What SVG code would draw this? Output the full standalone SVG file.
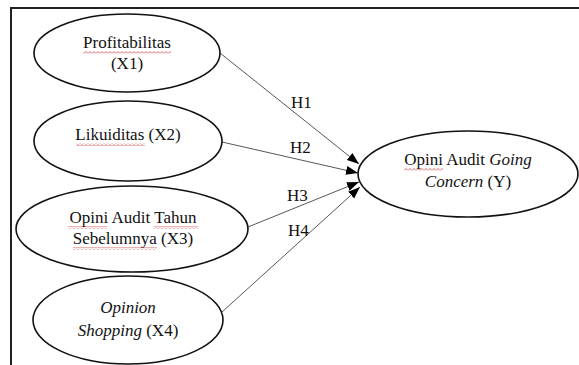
<svg xmlns="http://www.w3.org/2000/svg" width="579" height="365" viewBox="0 0 579 365">
<style>
  .node { fill: #ffffff; stroke: #111111; stroke-width: 1.6; }
  .t { font-family: 'Liberation Serif', 'Times New Roman', serif; font-size: 17px; fill: #111111; text-anchor: middle; }
  .lbl { font-family: 'Liberation Serif', 'Times New Roman', serif; font-size: 17px; fill: #111111; }
  .i { font-style: italic; }
  .edge { stroke: #444444; stroke-width: 0.9; fill: none; marker-end: url(#arr); }
  .frame { stroke: #222222; stroke-width: 2; fill: none; }
  .sq { fill: url(#wavy); }
</style>
<defs>
  <marker id="arr" markerUnits="userSpaceOnUse" markerWidth="13" markerHeight="10" refX="12" refY="4.5" orient="auto">
    <path d="M0,0 L12,4.5 L0,9 z" fill="#000000"/>
  </marker>
  <pattern id="wavy" patternUnits="userSpaceOnUse" x="0" y="0" width="4" height="3">
    <path d="M0,2.5 L2,0.5 L4,2.5" stroke="#d23c3c" stroke-width="0.8" fill="none"/>
  </pattern>
</defs>
<rect width="579" height="365" fill="#ffffff"/>
<path class="frame" d="M11,365 L11,8 L579,8"/>

<g id="connectors">
  <line class="edge" x1="220" y1="53" x2="359" y2="164"/>
  <line class="edge" x1="222" y1="142" x2="358" y2="173"/>
  <line class="edge" x1="248" y1="227" x2="359" y2="182"/>
  <line class="edge" x1="222" y1="312" x2="360" y2="187"/>
  <text class="lbl" x="291" y="108">H1</text>
  <text class="lbl" x="290" y="153">H2</text>
  <text class="lbl" x="287" y="201">H3</text>
  <text class="lbl" x="288" y="236">H4</text>
</g>

<g id="x1">
  <ellipse class="node" cx="127" cy="53" rx="93" ry="39"/>
  <text class="t" x="127" y="48">Profitabilitas</text>
  <text class="t" x="127" y="69">(X1)</text>
  <rect class="sq" x="83" y="51" width="88" height="3"/>
</g>

<g id="x2">
  <ellipse class="node" cx="128" cy="141" rx="94" ry="40"/>
  <text class="t" x="128" y="140">Likuiditas (X2)</text>
  <rect class="sq" x="76" y="143" width="69" height="3"/>
</g>

<g id="x3">
  <ellipse class="node" cx="132" cy="229" rx="116" ry="43"/>
  <text class="t" x="133" y="223">Opini Audit Tahun</text>
  <text class="t" x="133" y="244">Sebelumnya (X3)</text>
  <rect class="sq" x="68" y="226" width="39" height="3"/>
  <rect class="sq" x="154" y="226" width="44" height="3"/>
  <rect class="sq" x="73" y="247" width="84" height="3"/>
</g>

<g id="x4">
  <ellipse class="node" cx="128" cy="320" rx="95" ry="44"/>
  <text class="t i" x="128" y="313">Opinion</text>
  <text class="t" x="128" y="336"><tspan class="i">Shopping</tspan> (X4)</text>
</g>

<g id="y">
  <ellipse class="node" cx="468" cy="174" rx="110" ry="43"/>
  <text class="t" x="468" y="165">Opini Audit <tspan class="i">Going</tspan></text>
  <text class="t" x="468" y="187"><tspan class="i">Concern</tspan> (Y)</text>
  <rect class="sq" x="404" y="168" width="39" height="3"/>
</g>
</svg>
